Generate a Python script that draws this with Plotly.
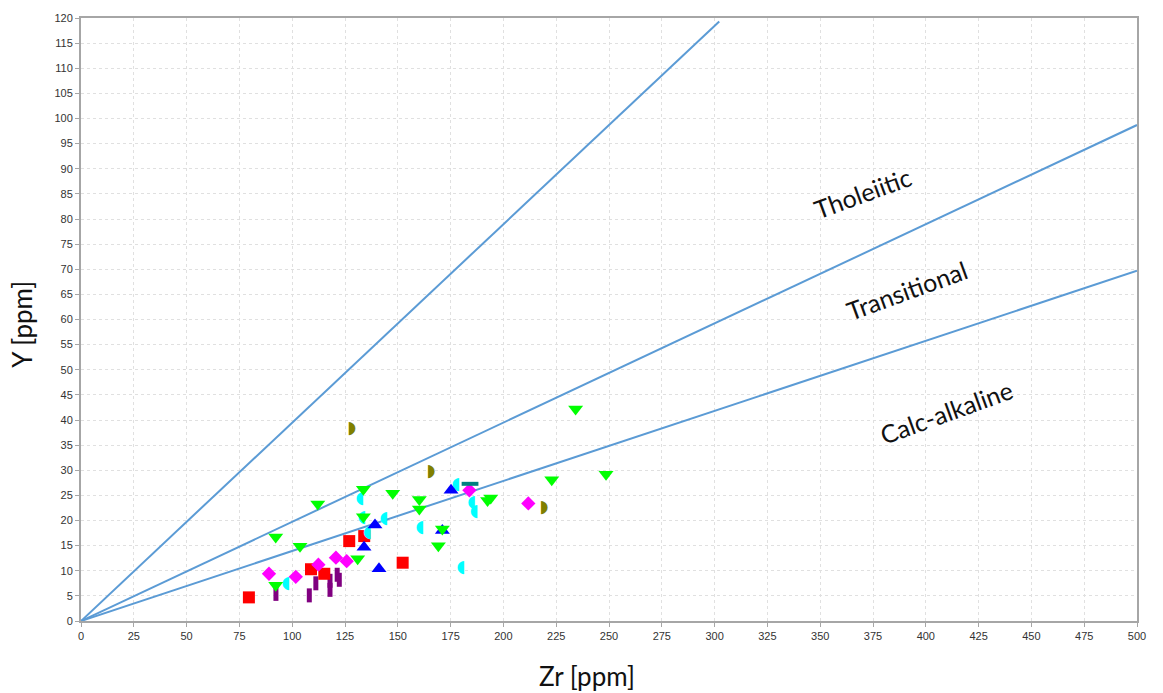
import plotly.graph_objects as go

# --- Data ---
line_ends_x = [302.2, 500.0, 500.0]
line_ends_y = [119.3, 98.7, 69.7]

green_x = [92.2, 92.2, 103.7, 112.1, 131.0, 133.7, 133.7, 147.6, 160.2, 160.2, 169.2, 171.1, 192.5, 194.0, 222.9, 234.2, 248.6]
green_y = [16.7, 7.1, 14.9, 23.3, 12.4, 26.2, 20.75, 25.4, 24.2, 22.3, 15.0, 18.3, 24.0, 24.5, 28.1, 42.2, 29.2]

cyan_x = [97.1, 132.1, 133.0, 135.7, 143.5, 160.5, 177.6, 179.9, 185.0, 186.2]
cyan_y = [7.4, 24.4, 20.5, 17.5, 20.3, 18.6, 27.2, 10.5, 23.6, 21.8]

blue_x = [134.0, 139.2, 141.1, 171.1, 175.2]
blue_y = [14.7, 19.1, 10.4, 18.0, 26.0]

red_x = [79.5, 108.9, 115.2, 127.0, 134.1, 152.3]
red_y = [4.7, 10.3, 9.4, 15.9, 16.9, 11.6]

magenta_x = [89.0, 101.7, 112.4, 120.7, 125.8, 183.9, 211.8]
magenta_y = [9.4, 8.8, 11.2, 12.6, 11.9, 26.0, 23.4]

purple_x = [92.3, 108.1, 111.2, 117.9, 117.9, 121.3, 122.3]
purple_y = [5.4, 5.1, 7.5, 6.2, 8.0, 9.2, 8.2]

olive_x = [128.2, 165.7, 219.2]
olive_y = [38.3, 29.7, 22.5]

teal_x = [184.2]
teal_y = [27.3]

field_labels = ["Tholeiitic", "Transitional", "Calc-alkaline"]
field_label_x = [369.8, 391.1, 409.6]
field_label_y = [85.2, 65.8, 41.6]

x_ticks = list(range(0, 501, 25))
y_ticks = list(range(0, 121, 5))

fig = go.Figure()

# discrimination lines
for ex, ey in zip(line_ends_x, line_ends_y):
    fig.add_trace(go.Scatter(x=[0, ex], y=[0, ey], mode="lines",
                             line=dict(color="#5b9bd5", width=2), hoverinfo="skip"))

# data series
fig.add_trace(go.Scatter(x=purple_x, y=purple_y, mode="markers",
                         marker=dict(symbol="line-ns", size=10, line=dict(color="#800080", width=5))))
fig.add_trace(go.Scatter(x=red_x, y=red_y, mode="markers",
                         marker=dict(symbol="square", size=12, color="#ff0000")))
fig.add_trace(go.Scatter(x=magenta_x, y=magenta_y, mode="markers",
                         marker=dict(symbol="diamond", size=11, color="#ff00ff")))
fig.add_trace(go.Scatter(x=cyan_x, y=cyan_y, mode="text", text=["\u25d6"] * len(cyan_x),
                         textposition="middle center",
                         textfont=dict(family="DejaVu Sans", size=17, color="#00ffff")))
fig.add_trace(go.Scatter(x=olive_x, y=olive_y, mode="text", text=["\u25d7"] * len(olive_x),
                         textposition="middle center",
                         textfont=dict(family="DejaVu Sans", size=17, color="#808000")))
fig.add_trace(go.Scatter(x=blue_x, y=blue_y, mode="markers",
                         marker=dict(symbol="triangle-up", size=13, color="#0000ff")))
fig.add_trace(go.Scatter(x=green_x, y=green_y, mode="markers",
                         marker=dict(symbol="triangle-down", size=13, color="#00ff00")))
fig.add_trace(go.Scatter(x=teal_x, y=teal_y, mode="markers",
                         marker=dict(symbol="line-ew", size=12, line=dict(color="#008080", width=4))))

for t, lx, ly in zip(field_labels, field_label_x, field_label_y):
    fig.add_annotation(x=lx, y=ly, text=t, showarrow=False, textangle=-20,
                       font=dict(family="Lato", size=25, color="#111111"))

fig.add_annotation(xref="paper", yref="paper", x=0.479, y=-0.0907, text="Zr [ppm]",
                   showarrow=False, xanchor="center", yanchor="middle",
                   font=dict(family="Lato", size=26, color="#111111"))
fig.add_annotation(xref="paper", yref="paper", x=-0.0559, y=0.493, text="Y [ppm]",
                   showarrow=False, textangle=-90, xanchor="center", yanchor="middle",
                   font=dict(family="Lato", size=26, color="#111111"))

axis_common = dict(showgrid=True, gridcolor="#e0e0e0", gridwidth=1, griddash="3px,3px",
                   showline=True, linecolor="#a6a6a6", linewidth=2, mirror=True,
                   ticks="outside", ticklen=4, tickcolor="#a6a6a6",
                   tickfont=dict(family="Liberation Sans", size=11, color="#333333"),
                   zeroline=False)

fig.update_xaxes(range=[0, 500], tickvals=x_ticks, **axis_common)
fig.update_yaxes(range=[0, 120], tickvals=y_ticks, **axis_common)

fig.update_layout(width=1163, height=693, showlegend=False,
                  margin=dict(l=81, r=26, t=15, b=72),
                  plot_bgcolor="white", paper_bgcolor="white")

fig.write_html("out.html")
